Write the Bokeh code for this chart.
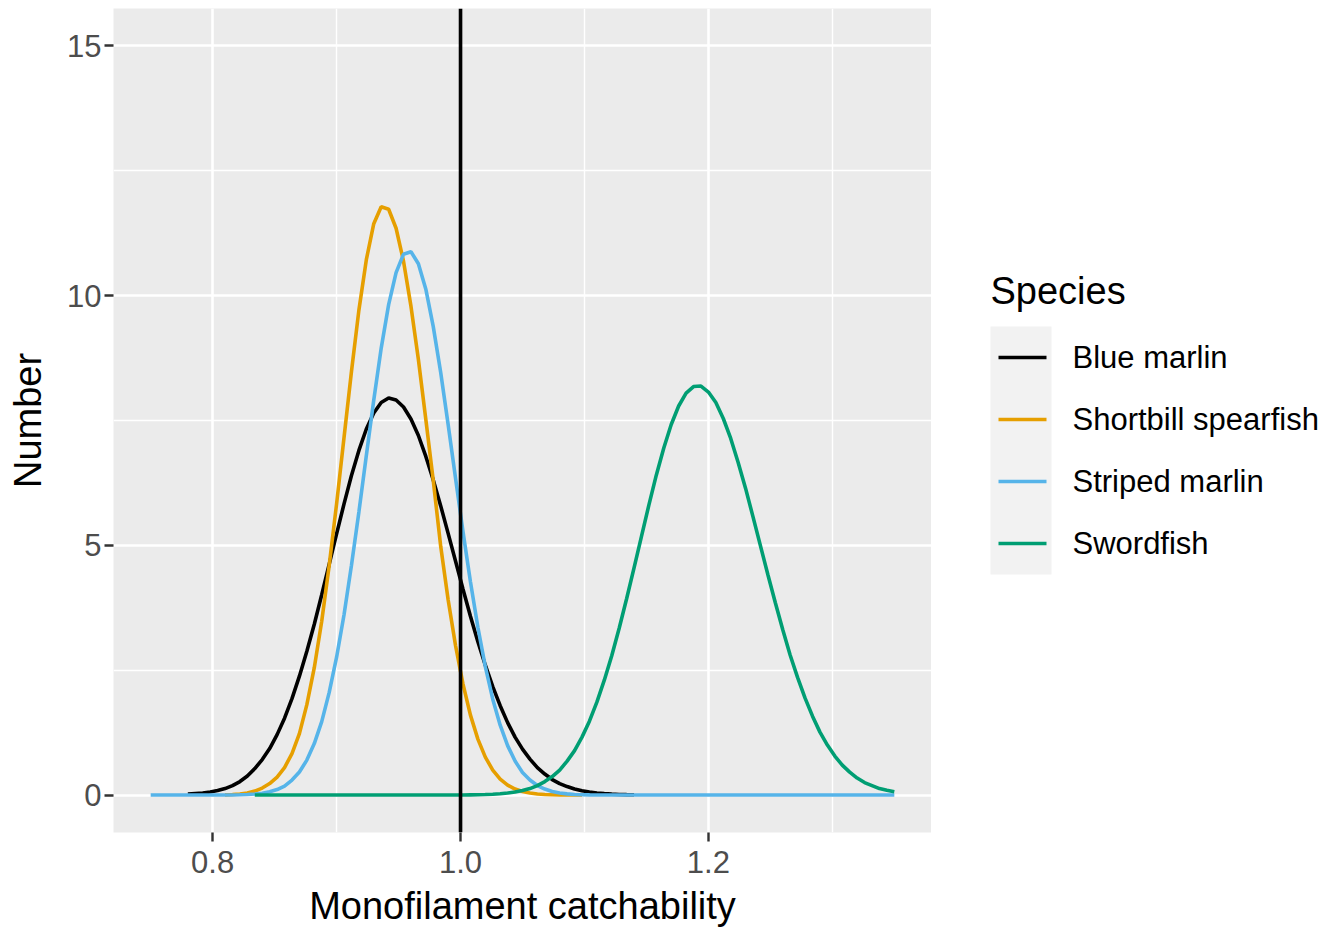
from bokeh.plotting import figure
from bokeh.models import Range1d, FixedTicker, Span, NumeralTickFormatter
from bokeh.layouts import row
from bokeh.embed import file_html
from bokeh.resources import INLINE
from bokeh.core.properties import value

# ---------------- data ----------------
X_GRID = [0.750, 0.756, 0.762, 0.768, 0.774, 0.780, 0.786, 0.792, 0.798, 0.804,
          0.810, 0.816, 0.822, 0.828, 0.834, 0.840, 0.846, 0.852, 0.858, 0.864,
          0.870, 0.876, 0.882, 0.888, 0.894, 0.900, 0.906, 0.912, 0.918, 0.924,
          0.930, 0.936, 0.942, 0.948, 0.954, 0.960, 0.966, 0.972, 0.978, 0.984,
          0.990, 0.996, 1.002, 1.008, 1.014, 1.020, 1.026, 1.032, 1.038, 1.044,
          1.050, 1.056, 1.062, 1.068, 1.074, 1.080, 1.086, 1.092, 1.098, 1.104,
          1.110, 1.116, 1.122, 1.128, 1.134, 1.140, 1.146, 1.152, 1.158, 1.164,
          1.170, 1.176, 1.182, 1.188, 1.194, 1.200, 1.206, 1.212, 1.218, 1.224,
          1.230, 1.236, 1.242, 1.248, 1.254, 1.260, 1.266, 1.272, 1.278, 1.284,
          1.290, 1.296, 1.302, 1.308, 1.314, 1.320, 1.326, 1.332, 1.338, 1.344,
          1.350]

SPECIES = ["Blue marlin", "Shortbill spearfish", "Striped marlin", "Swordfish"]
COLORS = ["#000000", "#E69F00", "#56B4E9", "#009E73"]

BLUE_MARLIN_X = X_GRID[5:66]
BLUE_MARLIN_Y = [0.02, 0.03, 0.04, 0.06, 0.09, 0.13, 0.19, 0.27, 0.38, 0.53,
                 0.71, 0.93, 1.21, 1.54, 1.93, 2.38, 2.88, 3.42, 4.01, 4.62,
                 5.23, 5.83, 6.40, 6.90, 7.33, 7.65, 7.86, 7.95, 7.91, 7.77,
                 7.53, 7.20, 6.78, 6.31, 5.79, 5.24, 4.68, 4.12, 3.58, 3.07,
                 2.60, 2.17, 1.79, 1.45, 1.16, 0.92, 0.72, 0.55, 0.42, 0.31,
                 0.23, 0.17, 0.12, 0.085, 0.06, 0.04, 0.028, 0.019, 0.012, 0.008,
                 0.005]

SHORTBILL_X = X_GRID[10:59]
SHORTBILL_Y = [0.004, 0.01, 0.02, 0.04, 0.08, 0.14, 0.23, 0.36, 0.55, 0.83,
               1.23, 1.81, 2.55, 3.48, 4.59, 5.83, 7.16, 8.48, 9.71, 10.72,
               11.44, 11.78, 11.73, 11.35, 10.69, 9.79, 8.72, 7.52, 6.30, 4.98,
               3.91, 2.99, 2.22, 1.60, 1.12, 0.76, 0.50, 0.32, 0.20, 0.12,
               0.07, 0.04, 0.02, 0.012, 0.006, 0.003, 0.001, 0.0, 0.0]

STRIPED_X = X_GRID[0:101]
STRIPED_Y = [0.0, 0.0, 0.0, 0.0, 0.0, 0.0, 0.0, 0.0, 0.0, 0.0,
             0.0, 0.002, 0.005, 0.01, 0.02, 0.037, 0.065, 0.11, 0.18, 0.30,
             0.46, 0.70, 1.03, 1.47, 2.05, 2.76, 3.61, 4.60, 5.67, 6.80,
             7.91, 8.95, 9.82, 10.46, 10.83, 10.88, 10.64, 10.13, 9.38, 8.46,
             7.42, 6.34, 5.27, 4.27, 3.36, 2.57, 1.92, 1.40, 0.99, 0.68,
             0.45, 0.30, 0.19, 0.12, 0.07, 0.04, 0.023, 0.012, 0.006, 0.003,
             0.001, 0.0, 0.0, 0.0, 0.0, 0.0, 0.0, 0.0, 0.0, 0.0,
             0.0, 0.0, 0.0, 0.0, 0.0, 0.0, 0.0, 0.0, 0.0, 0.0,
             0.0, 0.0, 0.0, 0.0, 0.0, 0.0, 0.0, 0.0, 0.0, 0.0,
             0.0, 0.0, 0.0, 0.0, 0.0, 0.0, 0.0, 0.0, 0.0, 0.0,
             0.0]

SWORDFISH_X = X_GRID[14:101]
SWORDFISH_Y = [0.0, 0.0, 0.0, 0.0, 0.0, 0.0, 0.0, 0.0, 0.0, 0.0,
               0.0, 0.0, 0.0, 0.0, 0.0, 0.0, 0.0, 0.0, 0.0, 0.0,
               0.0, 0.0, 0.0, 0.0, 0.0, 0.0, 0.0,
               0.001, 0.002, 0.004, 0.006, 0.01, 0.016, 0.025, 0.04, 0.06, 0.09,
               0.13, 0.19, 0.27, 0.37, 0.50, 0.68, 0.89, 1.16, 1.48, 1.86,
               2.30, 2.79, 3.34, 3.93, 4.55, 5.18, 5.81, 6.41, 6.95, 7.42,
               7.79, 8.05, 8.18, 8.19, 8.07, 7.86, 7.54, 7.14, 6.66, 6.14,
               5.57, 4.99, 4.41, 3.85, 3.31, 2.80, 2.35, 1.94, 1.58, 1.26,
               1.00, 0.78, 0.60, 0.46, 0.34, 0.25, 0.19, 0.13, 0.094, 0.066]

SERIES_X = [BLUE_MARLIN_X, SHORTBILL_X, STRIPED_X, SWORDFISH_X]
SERIES_Y = [BLUE_MARLIN_Y, SHORTBILL_Y, STRIPED_Y, SWORDFISH_Y]

X_TICKS = [0.8, 1.0, 1.2]
X_MINOR = [0.9, 1.1, 1.3]
Y_TICKS = [0, 5, 10, 15]
Y_MINOR = [2.5, 7.5, 12.5]
X_LIMITS = (0.72, 1.38)
Y_LIMITS = (-0.75, 15.75)
REFERENCE_X = 1.0

FONT = "Liberation Sans"
LW = 3.6

# ---------------- main panel ----------------
p = figure(width=931, height=930,
           x_range=Range1d(*X_LIMITS), y_range=Range1d(*Y_LIMITS),
           output_backend="svg", toolbar_location=None,
           min_border_left=113, min_border_right=0,
           min_border_top=8, min_border_bottom=98)
p.background_fill_color = "#EBEBEB"
p.border_fill_color = "white"
p.outline_line_color = None

p.xgrid.ticker = FixedTicker(ticks=X_TICKS, minor_ticks=X_MINOR)
p.ygrid.ticker = FixedTicker(ticks=Y_TICKS, minor_ticks=Y_MINOR)
for g in (p.xgrid, p.ygrid):
    g.grid_line_color = "white"
    g.grid_line_width = 2.6
    g.minor_grid_line_color = "white"
    g.minor_grid_line_width = 1.4

p.xaxis.ticker = FixedTicker(ticks=X_TICKS)
p.yaxis.ticker = FixedTicker(ticks=Y_TICKS)
p.xaxis.formatter = NumeralTickFormatter(format="0.0")
for ax in (p.xaxis, p.yaxis):
    ax.axis_line_color = None
    ax.major_tick_line_color = "#333333"
    ax.major_tick_line_width = 2.4
    ax.major_tick_out = 9
    ax.major_tick_in = 0
    ax.minor_tick_line_color = None
    ax.major_label_text_color = "#4D4D4D"
    ax.major_label_text_font = FONT
    ax.major_label_text_font_size = "31px"
    ax.axis_label_text_font = FONT
    ax.axis_label_text_font_size = "38px"
    ax.axis_label_text_font_style = "normal"
    ax.axis_label_text_color = "black"

p.xaxis.axis_label = "Monofilament catchability"
p.yaxis.axis_label = "Number"
p.xaxis.major_label_standoff = 9
p.xaxis.axis_label_standoff = 9
p.yaxis.major_label_standoff = 3
p.yaxis.axis_label_standoff = 15

for xs, ys, col in zip(SERIES_X, SERIES_Y, COLORS):
    p.line(xs, ys, line_color=col, line_width=LW)

p.add_layout(Span(location=REFERENCE_X, dimension="height",
                  line_color="black", line_width=LW))

# ---------------- legend panel (pixel-space ranges) ----------------
lg = figure(width=400, height=930, x_range=Range1d(931, 1331), y_range=Range1d(832, 8),
            output_backend="svg", toolbar_location=None,
            x_axis_type=None, y_axis_type=None,
            min_border_left=0, min_border_right=0,
            min_border_top=8, min_border_bottom=98)
lg.outline_line_color = None
lg.background_fill_color = "white"
lg.border_fill_color = "white"
lg.xgrid.visible = False
lg.ygrid.visible = False

key_left, key_right, key_top, key_step = 990, 1051, 326, 62
lg.quad(left=[key_left], right=[key_right], top=[key_top],
        bottom=[key_top + key_step * len(SPECIES)],
        fill_color="#F2F2F2", line_color=None)
key_y = [key_top + key_step * (k + 0.5) for k in range(len(SPECIES))]
lg.segment(x0=[key_left + 8] * len(SPECIES), y0=key_y,
           x1=[key_right - 5] * len(SPECIES), y1=key_y,
           line_color=COLORS, line_width=LW)
lg.text(x=[key_right + 21] * len(SPECIES), y=key_y, text=SPECIES,
        text_font=value(FONT), text_font_size="31px",
        text_baseline="middle", text_align="left", text_color="black")
lg.text(x=[key_left], y=[key_top - 36], text=["Species"],
        text_font=value(FONT), text_font_size="38px",
        text_baseline="middle", text_align="left", text_color="black")

layout = row(p, lg)
open("out.html", "w").write(file_html(layout, INLINE))
